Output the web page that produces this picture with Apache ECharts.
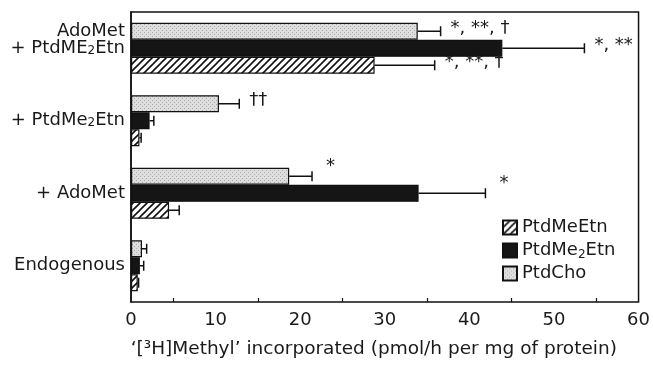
<!DOCTYPE html>
<html>
<head>
<meta charset="utf-8">
<script src="https://cdn.jsdelivr.net/npm/echarts@6/dist/echarts.min.js"></script>
<style>
  html, body { margin: 0; padding: 0; background: #fff; }
  #chart { width: 653px; height: 371px; }
</style>
</head>
<body>
<div id="chart"></div>
<script>
// categories bottom -> top
var categories = ['Endogenous', '+ AdoMet', '+ PtdMe2Etn', 'AdoMet\n+ PtdME2Etn'];
var seriesNames = ['PtdCho', 'PtdMe2Etn', 'PtdMeEtn'];
var legendOrder = ['PtdMeEtn', 'PtdMe2Etn', 'PtdCho'];

var ptdCho = [1.3, 18.7, 10.4, 33.9];
var ptdChoErr = [1.85, 21.4, 12.8, 36.6];
var ptdChoNotes = ['', '*', '††', '*, **, †'];

var ptdMe2Etn = [1.05, 34.0, 2.2, 43.9];
var ptdMe2EtnErr = [1.5, 41.9, 2.7, 53.6];
var ptdMe2EtnNotes = ['', '*', '', '*, **'];

var ptdMeEtn = [0.8, 4.5, 1.0, 28.8];
var ptdMeEtnErr = [0.9, 5.7, 1.2, 35.9];
var ptdMeEtnNotes = ['', '', '', '*, **, †'];

var xMin = 0, xMax = 60, xStep = 10;
var xName = '‘[³H]Methyl’ incorporated (pmol/h per mg of protein)';

var FONT = 'DejaVu Sans';
var INK = '#1a1a1a';
var barW = 17;

// fill patterns
function hatch() {
  var c = document.createElement('canvas');
  c.width = 7; c.height = 7;
  var g = c.getContext('2d');
  g.fillStyle = '#fff';
  g.fillRect(0, 0, 7, 7);
  g.strokeStyle = '#111';
  g.lineWidth = 1.6;
  g.beginPath();
  g.moveTo(0, 7); g.lineTo(7, 0);
  g.moveTo(-1, 1); g.lineTo(1, -1);
  g.moveTo(6, 8); g.lineTo(8, 6);
  g.stroke();
  return { image: c, repeat: 'repeat' };
}
function stipple() {
  var c = document.createElement('canvas');
  c.width = 4; c.height = 4;
  var g = c.getContext('2d');
  g.fillStyle = '#dedede';
  g.fillRect(0, 0, 4, 4);
  g.fillStyle = '#ababab';
  g.fillRect(0, 0, 1, 1);
  g.fillRect(2, 2, 1, 1);
  return { image: c, repeat: 'repeat' };
}

var fills = [stipple(), '#151515', hatch()];
var values = [ptdCho, ptdMe2Etn, ptdMeEtn];
var highs = [ptdChoErr, ptdMe2EtnErr, ptdMeEtnErr];
var notes = [ptdChoNotes, ptdMe2EtnNotes, ptdMeEtnNotes];

function subscript(s) {
  return s.replace(/2/g, '{sub|2}');
}

function errorBars(pos, noteList) {
  return function (params, api) {
    var cat = api.value(2);
    var start = api.coord([api.value(0), cat]);
    var end = api.coord([api.value(1), cat]);
    var y = start[1] + (pos - 1) * barW;
    var kids = [
      { type: 'line', shape: { x1: start[0], y1: y, x2: end[0], y2: y }, style: { stroke: '#111', lineWidth: 1.5 } },
      { type: 'line', shape: { x1: end[0], y1: y - 5, x2: end[0], y2: y + 5 }, style: { stroke: '#111', lineWidth: 1.5 } }
    ];
    var note = noteList[params.dataIndex];
    if (note) {
      // lone stars sit higher than the longer notes
      var single = note === '*';
      kids.push({
        type: 'text',
        style: {
          text: note,
          x: end[0] + (single ? 14 : 10),
          y: y - (single ? 10 : 3),
          fill: INK,
          fontSize: 18,
          fontFamily: FONT,
          align: 'left',
          verticalAlign: 'middle'
        }
      });
    }
    return { type: 'group', children: kids };
  };
}

var series = [];
seriesNames.forEach(function (name, i) {
  series.push({
    name: name,
    type: 'bar',
    barWidth: barW,
    barGap: '0%',
    data: values[i],
    itemStyle: { color: fills[i], borderColor: '#111', borderWidth: 1.2 },
    z: 2
  });
});
seriesNames.forEach(function (name, i) {
  series.push({
    name: 'err-' + name,
    type: 'custom',
    renderItem: errorBars(i, notes[i]),
    encode: { x: [0, 1], y: 2 },
    data: categories.map(function (c, k) { return [values[i][k], highs[i][k], k]; }),
    z: 3,
    silent: true
  });
});

var chart = echarts.init(document.getElementById('chart'));
chart.setOption({
  animation: false,
  backgroundColor: '#fff',
  textStyle: { fontFamily: FONT },
  grid: {
    left: 131, right: 12, top: 12, bottom: 69,
    show: true, borderColor: '#111', borderWidth: 1.5, backgroundColor: 'transparent'
  },
  legend: {
    data: legendOrder,
    orient: 'vertical',
    left: 497,
    top: 212,
    itemWidth: 14,
    itemHeight: 14,
    itemGap: 2,
    icon: 'rect',
    formatter: function (n) { return subscript(n); },
    textStyle: {
      fontFamily: FONT, fontSize: 18, color: INK, lineHeight: 21,
      rich: { sub: { fontSize: 12, fontFamily: FONT, color: INK, verticalAlign: 'bottom', lineHeight: 12 } }
    }
  },
  xAxis: {
    type: 'value',
    min: xMin, max: xMax, interval: xStep,
    name: xName,
    nameLocation: 'middle',
    nameGap: 38,
    nameTextStyle: { fontFamily: FONT, fontSize: 18.5, color: INK, padding: [0, 22, 0, 0] },
    axisLine: { lineStyle: { color: '#111', width: 1.5 } },
    axisTick: { inside: true, length: 5, lineStyle: { color: '#111', width: 1.5 } },
    minorTick: { show: true, splitNumber: 2, length: 4, lineStyle: { color: '#111', width: 1.2 } },
    splitLine: { show: false },
    axisLabel: { fontFamily: FONT, fontSize: 18, color: INK, margin: 9 }
  },
  yAxis: {
    type: 'category',
    data: categories,
    axisLine: { lineStyle: { color: '#111', width: 1.5 } },
    axisTick: { length: 4, lineStyle: { color: '#111', width: 1.5 } },
    axisLabel: {
      fontFamily: FONT, fontSize: 18, color: INK, margin: 6, lineHeight: 17,
      formatter: function (v) {
        var s = subscript(v);
        return v.indexOf('\n') >= 0 ? s + '\n ' : s;
      },
      rich: { sub: { fontSize: 12, fontFamily: FONT, color: INK, verticalAlign: 'bottom', lineHeight: 12 } }
    }
  },
  series: series
});
</script>
</body>
</html>
